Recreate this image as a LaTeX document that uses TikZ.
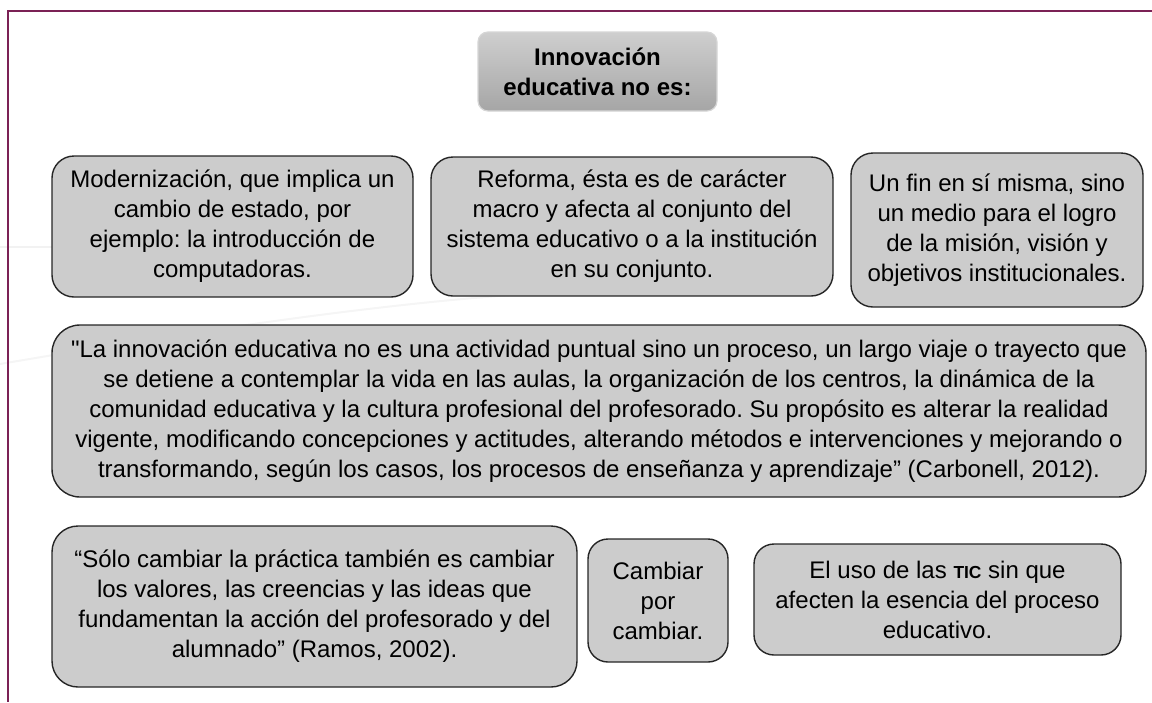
\documentclass[tikz,border=0pt]{standalone}
\usepackage{fontspec}
\setmainfont{Liberation Sans}[Ligatures=TeXOff]
\frenchspacing

\definecolor{framered}{HTML}{7B2155}
\definecolor{boxgray}{HTML}{CCCCCC}
\newcommand{\tic}{{\fontsize{8.7}{10}\selectfont\bfseries TIC}}

\begin{document}
\begin{tikzpicture}[
            x = 0.5pt, y = -0.5pt, % one unit is one pixel, y grows downwards
            font = \fontsize{12}{15}\selectfont, % text of every box
            semithick % line style
        ]

        \tikzstyle{idea}=[
            draw = black!85,
            line width = 0.7pt,
            fill = boxgray,
            rounded corners = 11pt,
            align = center,
            inner sep = 0pt
        ]
        \tikzstyle{title}=[
            draw = black!16,
            top color = black!19,
            bottom color = black!35,
            rounded corners = 5pt,
            align = center,
            inner sep = 0pt,
            font = \fontsize{12}{15}\selectfont\bfseries
        ]

        \useasboundingbox (0,0) rectangle (1152,702);

        % faint background lines
        \draw[black!5, line width = 1pt] (0,247) -- (52,247);
        \draw[black!4, line width = 1pt] (0,364) .. controls (200,330) and (400,300) .. (560,292);

        % frame
        \coordinate (tl) at (8,11);
        \coordinate (tr) at (1152,11);
        \coordinate (bl) at (8,702);
        \draw[framered, line width = 1.1pt] (tr) -- (tl) -- (bl);

        \node[title, minimum width = 119.5pt, minimum height = 39.5pt] (head) at (597.5,71.5)
            {Innovación\\educativa no es:};

        \node[idea, minimum width = 180.5pt, minimum height = 70.5pt] (modern) at (232.5,226.5)
            {Modernización, que implica un\\cambio de estado, por\\ejemplo: la introducción de\\computadoras.};
        \node[idea, minimum width = 201pt, minimum height = 69.5pt] (reforma) at (632,226.5)
            {Reforma, ésta es de carácter\\macro y afecta al conjunto del\\sistema educativo o a la institución\\en su conjunto.};
        \node[idea, minimum width = 146pt, minimum height = 77pt] (fin) at (997,230)
            {Un fin en sí misma, sino\\un medio para el logro\\de la misión, visión y\\objetivos institucionales.};

        \node[idea, rounded corners = 14pt, minimum width = 547pt, minimum height = 86pt] (carbonell) at (599,411)
            {"La innovación educativa no es una actividad puntual sino un proceso, un largo viaje o trayecto que\\
            se detiene a contemplar la vida en las aulas, la organización de los centros, la dinámica de la\\
            comunidad educativa y la cultura profesional del profesorado. Su propósito es alterar la realidad\\
            vigente, modificando concepciones y actitudes, alterando métodos e intervenciones y mejorando o\\
            transformando, según los casos, los procesos de enseñanza y aprendizaje” (Carbonell, 2012).};

        \node[idea, rounded corners = 13pt, minimum width = 262.5pt, minimum height = 80.5pt] (ramos) at (314.5,606.5)
            {“Sólo cambiar la práctica también es cambiar\\los valores, las creencias y las ideas que\\fundamentan la acción del profesorado y del\\alumnado” (Ramos, 2002).};
        \node[idea, rounded corners = 10pt, minimum width = 70pt, minimum height = 61.5pt] (cambiar) at (658,600.5)
            {Cambiar\\por\\cambiar.};
        \node[idea, rounded corners = 10pt, minimum width = 183.5pt, minimum height = 55.5pt] (tics) at (937.5,599.5)
            {El uso de las \tic{} sin que\\afecten la esencia del proceso\\educativo.};

    \end{tikzpicture}
\end{document}
